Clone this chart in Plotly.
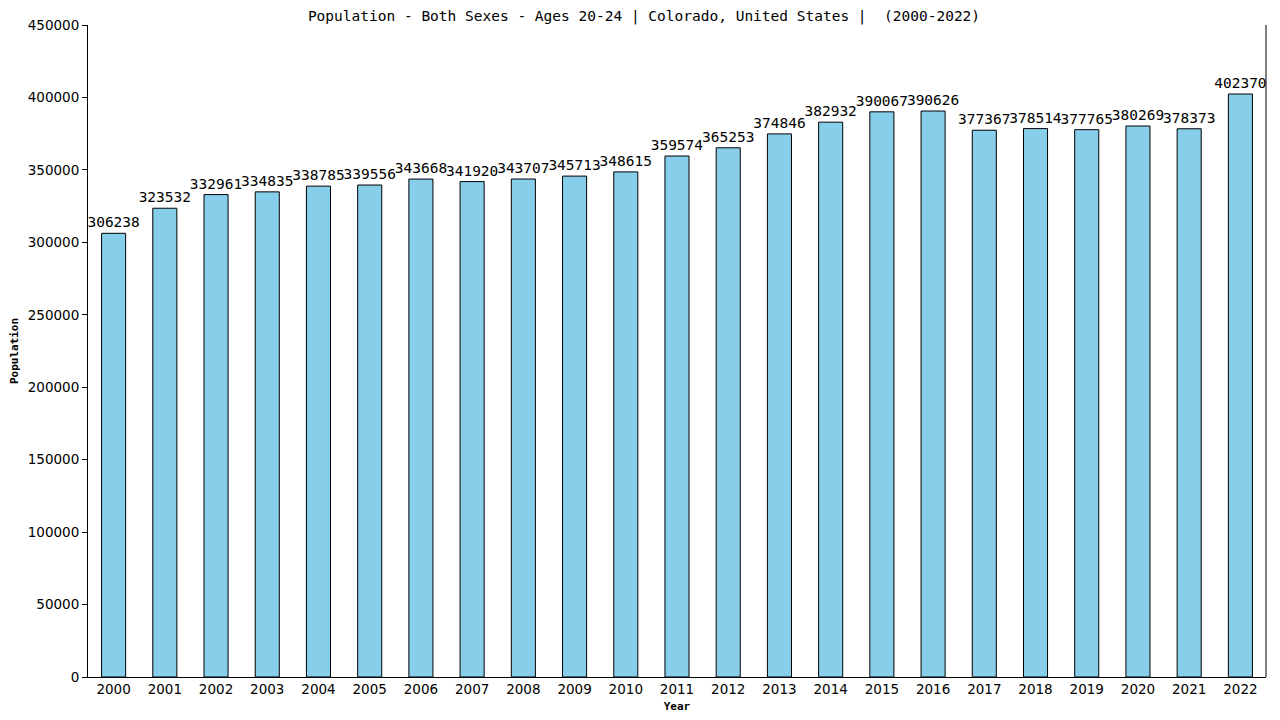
import plotly.graph_objects as go

years = [str(y) for y in range(2000, 2023)]
population = [306238, 323532, 332961, 334835, 338785, 339556, 343668, 341920,
              343707, 345713, 348615, 359574, 365253, 374846, 382932, 390067,
              390626, 377367, 378514, 377765, 380269, 378373, 402370]

mono = "DejaVu Sans Mono"
sans = "DejaVu Sans"

fig = go.Figure(go.Bar(
    x=years,
    y=population,
    width=0.47,
    marker=dict(color="#87ceeb", line=dict(color="black", width=1)),
    text=[str(v) for v in population],
    textposition="outside",
    constraintext="none",
    textfont=dict(family=mono, size=14.5, color="black"),
    cliponaxis=False,
))

# page body adds 8px offset, so the figure is sized to fit the window
fig.update_layout(
    width=1272, height=712,
    margin=dict(l=80, r=14, t=17, b=43),
    paper_bgcolor="white", plot_bgcolor="white",
    showlegend=False,
    title=dict(text="Population - Both Sexes - Ages 20-24 | Colorado, United States |  (2000-2022)",
               x=0.5, xanchor="center", y=0.989, yanchor="middle",
               font=dict(family=mono, size=14.5, color="black")),
    font=dict(family=mono, color="black"),
)
fig.update_xaxes(
    type="category", range=[-0.5, 22.5], automargin=False,
    showline=True, linecolor="black", linewidth=1, mirror=False,
    ticks="", tickfont=dict(family=sans, size=13.5),
    title=dict(text="<b>Year</b>", font=dict(family=mono, size=11), standoff=6),
)
fig.update_yaxes(
    range=[0, 450000], dtick=50000, tickformat="d", automargin=False,
    showline=True, linecolor="black", linewidth=1,
    ticks="outside", ticklen=5, tickcolor="black",
    showgrid=False, zeroline=False,
    tickfont=dict(family=sans, size=13.5),
    title=dict(text="<b>Population</b>", font=dict(family=mono, size=11), standoff=10),
)
# right border line
fig.add_shape(type="line", xref="paper", yref="paper", x0=1, x1=1, y0=0, y1=1,
              line=dict(color="black", width=1))

fig.write_html("out.html")
